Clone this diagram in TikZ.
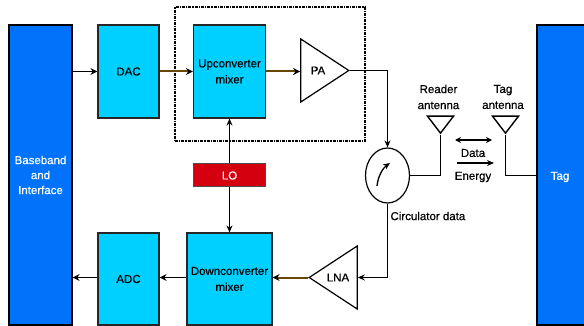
\documentclass[tikz,border=0pt]{standalone}
\usepackage{fontspec}
\setmainfont[FakeBold=0.5]{Liberation Sans}
\usetikzlibrary{arrows.meta, positioning, shapes.geometric}
\definecolor{hostblue}{HTML}{0073FA}
\definecolor{blockcyan}{HTML}{00D0FF}
\definecolor{lored}{HTML}{D4000F}
\definecolor{wirebrown}{HTML}{6A4605}

\begin{document}
\begin{tikzpicture}[x=1pt, y=-1pt,
  font=\fontsize{11.5}{16}\selectfont,
  host/.style={draw=black, line width=1.2pt, fill=hostblue, text=white, inner sep=0pt, align=center},
  block/.style={draw=black!85, line width=1.2pt, fill=blockcyan, inner sep=0pt, align=center},
  amp/.style={draw=black, line width=1.2pt, fill=white, isosceles triangle, isosceles triangle stretches,
    isosceles triangle apex angle=60, inner sep=0pt, minimum width=63pt, minimum height=48pt},
  aerial/.style={draw=black, line width=1.4pt, fill=white, isosceles triangle, isosceles triangle stretches,
    shape border rotate=270, inner sep=0pt, minimum width=26pt, minimum height=17pt},
  wire/.style={draw=black, line width=1.1pt},
  sig/.style={wire, line width=1.7pt, -{Stealth[length=7pt,width=7pt,black]}},
  brownsig/.style={sig, draw=wirebrown, line width=2pt},
  thinsig/.style={wire, -{Stealth[length=7pt,width=6pt]}}]
  \useasboundingbox (0,0) rectangle (584,326);
  \clip (0,0) rectangle (584,326);

  % blocks
  \node[host, minimum width=63pt, minimum height=300pt] (baseband) at (40.5,175) {};
  \node[host, minimum width=60pt, minimum height=300pt] (tag) at (567,175) {};
  \node[text=white, align=center, font=\fontsize{11.5}{15}\selectfont] (basebandtxt) at (40.5,175) {Baseband\\and\\Interface};
  \node[text=white] (tagtxt) at (560,177) {Tag};
  \node[block, minimum width=61pt, minimum height=93pt] (dac) at (128.5,71.5) {DAC};
  \node[block, minimum width=72pt, minimum height=93pt] (up) at (229.5,71.5) {Upconverter\\mixer};
  \node[block, minimum width=61pt, minimum height=92pt] (adc) at (128.5,279) {ADC};
  \node[block, minimum width=85pt, minimum height=92pt] (down) at (229.5,279) {Downconverter\\mixer};
  \node[draw=black!70, line width=1pt, fill=lored, text=white, inner sep=0pt,
    minimum width=72pt, minimum height=23pt] (lo) at (229.5,175.5) {LO};

  % dashed box round the transmitter
  \node[draw=black, line width=1.3pt, densely dash dot, inner sep=0pt,
    minimum width=190pt, minimum height=134pt] (txbox) at (270,74) {};

  % amplifiers
  \node[amp, anchor=apex] (pa) at (350,70.5) {};
  \node (patxt) at (318,70.5) {PA};
  \node[amp, shape border rotate=180, anchor=apex] (lna) at (308,277.5) {};
  \node (lnatxt) at (338,277.5) {LNA};

  % circulator
  \node[draw=black, line width=1.2pt, fill=white, ellipse, inner sep=0pt,
    minimum width=44pt, minimum height=55pt] (circ) at (387.5,175.5) {};
  \coordinate (circa) at (377,186);
  \coordinate (circb) at (390,163);
  \draw[thinsig, line width=1.3pt] (circa) .. controls (378,176) and (383,168) .. (circb);
  \node[anchor=west] (circtxt) at (387,216) {Circulator data};

  % antennas
  \node[aerial, anchor=apex] (rxant) at (440.5,135) {};
  \node[aerial, anchor=apex] (tagant) at (505.5,135) {};
  \node[align=center] (rxtxt) at (438.5,97) {Reader\\antenna};
  \node[align=center] (tagtxt2) at (503,97) {Tag\\antenna};

  % air link
  \coordinate (dataw) at (455,140);
  \coordinate (datae) at (492,140);
  \coordinate (enw) at (457,163);
  \coordinate (ene) at (494,163);
  \draw[wire, {Stealth[length=6pt,width=6pt]}-{Stealth[length=6pt,width=6pt]}] (dataw) -- (datae);
  \draw[thinsig, line width=1.4pt] (enw) -- (ene);
  \node (datatxt) at (473,153) {Data};
  \node (entxt) at (473,177) {Energy};

  % connectors
  \draw[sig] (baseband.east |- dac.west) -- (dac.west);
  \draw[brownsig] (dac.east) -- (up.west);
  \draw[brownsig] (up.east) -- (pa.lower side |- up.east);
  \draw[wire, line width=1.7pt] (pa.apex) -- (387.5,70.5) coordinate (bend);
  \draw[thinsig] (bend) -- (circ.north);
  \draw[thinsig] (lo.north) -- (up.south);
  \draw[thinsig] (lo.south) -- (down.north);
  \draw[thinsig] (circ.south) |- (lna.lower side);
  \draw[brownsig] (lna.apex) -- (down.east |- lna.apex);
  \draw[sig] (down.west |- lna.apex) -- (adc.east |- lna.apex);
  \draw[sig] (adc.west |- lna.apex) -- (baseband.east |- lna.apex);
  \draw[wire] (circ.east) -| (rxant.apex);
  \draw[wire] (tag.west |- circ.east) -| (tagant.apex);
\end{tikzpicture}
\end{document}
